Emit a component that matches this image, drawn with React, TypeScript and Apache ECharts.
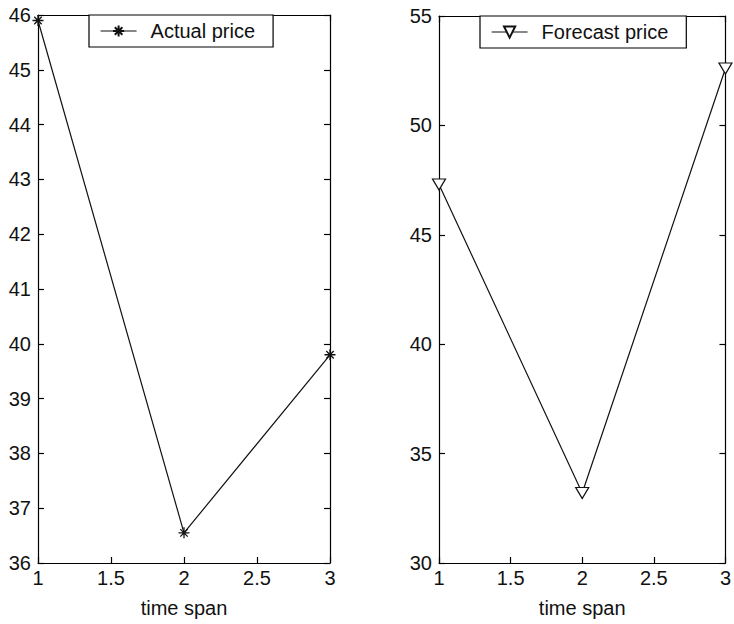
import React, { useEffect, useRef } from "react";
import * as echarts from "echarts";

const timeSpan = [1, 2, 3];
const actualPrice = [45.9, 36.55, 39.8];
const forecastPrice = [47.3, 33.2, 52.6];
const seriesNames = ["Actual price", "Forecast price"];
const xAxisName = "time span";

const FONT = "'Liberation Sans', Arial, sans-serif";
const ASTERISK = "path://M0,5 L10,5 M5,0 L5,10 M1.6,1.6 L8.4,8.4 M1.6,8.4 L8.4,1.6";
const TRIANGLE = "path://M0,0 L10,0 L5,9 Z";

export default function App() {
  const ref = useRef<HTMLDivElement>(null);
  useEffect(() => {
    if (!ref.current) return;
    const chart = echarts.init(ref.current, undefined, { renderer: "svg" });
    const grids = [
      { left: 38, top: 15, width: 292, height: 548 },
      { left: 439, top: 16, width: 293, height: 547 },
    ];
    const yRanges = [
      { min: 36, max: 46, interval: 1 },
      { min: 30, max: 55, interval: 5 },
    ];
    const lineStyle = { color: "#000", width: 1.2 };
    const xAxes: any[] = [];
    const yAxes: any[] = [];
    [0, 1].forEach((g) => {
      xAxes.push({
        type: "value",
        gridIndex: g,
        min: 1,
        max: 3,
        interval: 0.5,
        position: "bottom",
        name: xAxisName,
        nameLocation: "middle",
        nameGap: 35,
        nameTextStyle: { fontFamily: FONT, fontSize: 20, color: "#111" },
        axisLine: { show: true, lineStyle },
        axisTick: { show: true, inside: true, length: 6, lineStyle },
        axisLabel: { fontFamily: FONT, fontSize: 20, color: "#111", margin: 5 },
        splitLine: { show: false },
      });
      xAxes.push({
        type: "value",
        gridIndex: g,
        min: 1,
        max: 3,
        interval: 0.5,
        position: "top",
        axisLine: { show: true, lineStyle },
        axisTick: { show: true, inside: true, length: 6, lineStyle },
        axisLabel: { show: false },
        splitLine: { show: false },
      });
      yAxes.push({
        type: "value",
        gridIndex: g,
        ...yRanges[g],
        position: "left",
        axisLine: { show: true, lineStyle },
        axisTick: { show: true, inside: true, length: 6, lineStyle },
        axisLabel: { fontFamily: FONT, fontSize: 20, color: "#111", margin: 7 },
        splitLine: { show: false },
      });
      yAxes.push({
        type: "value",
        gridIndex: g,
        ...yRanges[g],
        position: "right",
        axisLine: { show: true, lineStyle },
        axisTick: { show: true, inside: true, length: 6, lineStyle },
        axisLabel: { show: false },
        splitLine: { show: false },
      });
    });
    const legendBase = {
      orient: "horizontal",
      backgroundColor: "#fff",
      borderColor: "#000",
      borderWidth: 1.2,
      borderRadius: 0,
      itemWidth: 36,
      itemHeight: 14,
      itemGap: 0,
      z: 10,
      lineStyle: { width: 1.2, color: "#111" },
      textStyle: { fontFamily: FONT, fontSize: 20, color: "#111", padding: [0, 0, 0, 9] },
    };
    chart.setOption({
      animation: false,
      backgroundColor: "#fff",
      grid: grids,
      xAxis: xAxes,
      yAxis: yAxes,
      legend: [
        { ...legendBase, left: 89, top: 15, padding: [6, 18, 6, 11], data: [seriesNames[0]] },
        { ...legendBase, left: 480, top: 16, padding: [6, 18, 6, 11], data: [seriesNames[1]] },
      ],
      series: [
        {
          name: seriesNames[0],
          type: "line",
          xAxisIndex: 0,
          yAxisIndex: 0,
          clip: false,
          data: timeSpan.map((x, i) => [x, actualPrice[i]]),
          symbol: ASTERISK,
          symbolSize: 11,
          lineStyle: { color: "#111", width: 1.2 },
          itemStyle: { color: "transparent", borderColor: "#111", borderWidth: 1.3 },
        },
        {
          name: seriesNames[1],
          type: "line",
          xAxisIndex: 2,
          yAxisIndex: 2,
          clip: false,
          data: timeSpan.map((x, i) => [x, forecastPrice[i]]),
          symbol: TRIANGLE,
          symbolSize: [13, 11],
          lineStyle: { color: "#111", width: 1.2 },
          itemStyle: { color: "#fff", borderColor: "#111", borderWidth: 1.2 },
        },
      ],
    });
    return () => chart.dispose();
  }, []);
  return (
    <div
      ref={ref}
      style={{ position: "absolute", left: 0, top: 0, width: 734, height: 624 }}
    />
  );
}
